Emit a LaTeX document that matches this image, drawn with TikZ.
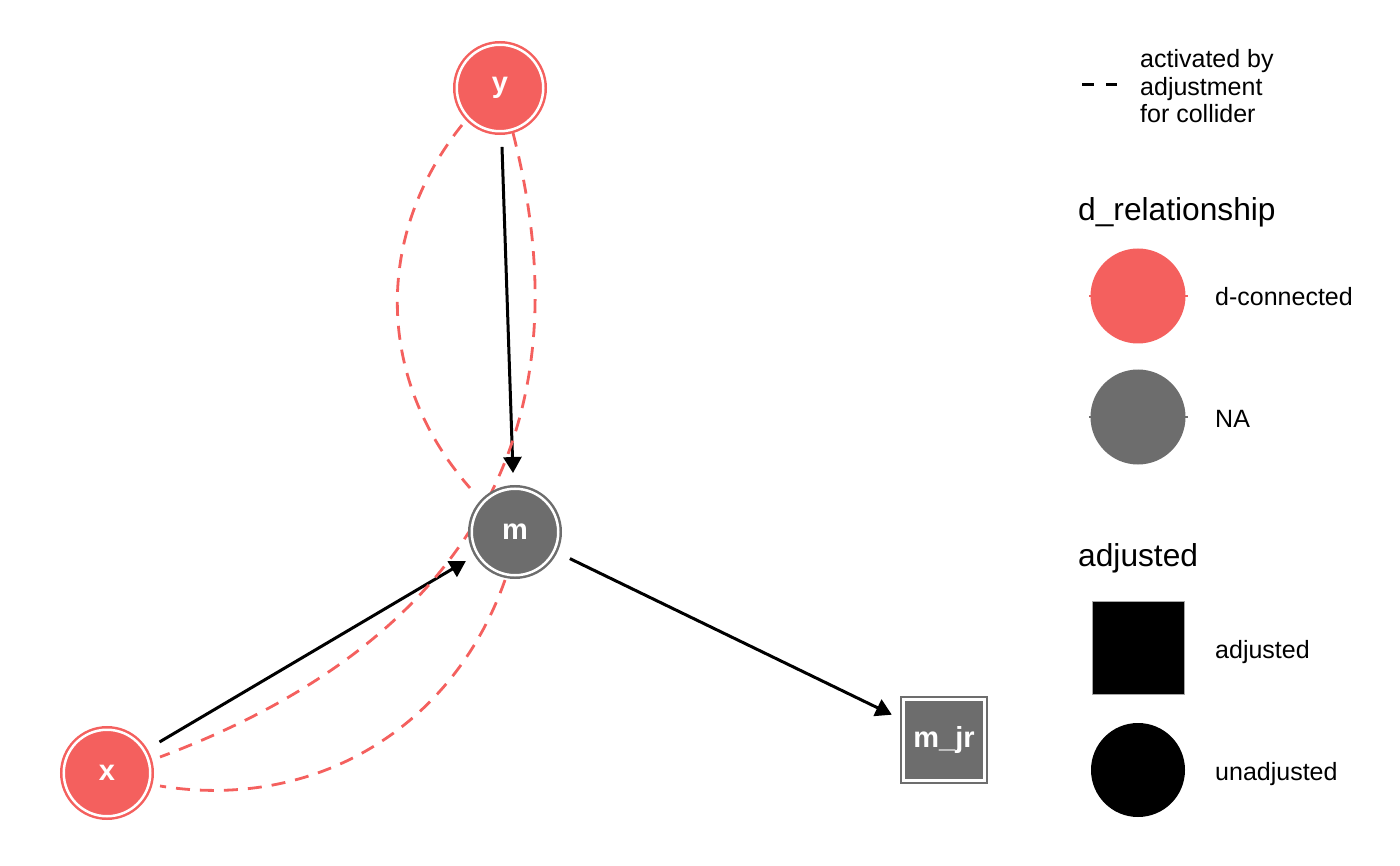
\documentclass[tikz,border=0pt]{standalone}
\usepackage{fontspec}
\setmainfont{Liberation Sans}
\usetikzlibrary{arrows.meta,calc,backgrounds}
\definecolor{dconn}{RGB}{244,96,94}
\definecolor{nagray}{RGB}{109,109,109}
\begin{document}
\begin{tikzpicture}[x=1pt,y=-1pt,
  dagnode/.style={circle, inner sep=0pt, minimum size=86.5pt, line width=2.5pt,
    double=white, double distance=2.5pt, text=white,
    font=\fontsize{29}{29}\selectfont\bfseries},
  dagsquare/.style={rectangle, inner sep=0pt, minimum size=81pt, line width=2pt,
    double=white, double distance=2.5pt, text=white, line join=miter,
    font=\fontsize{29}{29}\selectfont\bfseries},
  causal/.style={line width=3pt, black, -{Triangle[length=16pt,width=18pt]}},
  collider/.style={line width=2.8pt, dconn, dash pattern=on 14pt off 10pt},
  lab/.style={anchor=base west, inner sep=0pt, font=\fontsize{25}{27.5}\selectfont},
  ttl/.style={anchor=base west, inner sep=0pt, font=\fontsize{31.7}{35}\selectfont},
]
\useasboundingbox (0,0) rectangle (1400,866);

% DAG nodes
\node[dagnode, fill=dconn, draw=dconn] (y) at (500,88) {y};
\node[dagnode, fill=nagray, draw=nagray] (m) at (515,532) {m};
\node[dagnode, fill=dconn, draw=dconn] (x) at (107,773) {x};
\node[dagsquare, fill=nagray, draw=nagray] (mjr) at (944,740) {m\_jr};

% edges sit beneath the nodes
\begin{scope}[on background layer]
  \draw[causal, shorten <=59pt, shorten >=59pt] (y.center) -- (m.center);
  \draw[causal, shorten <=61pt, shorten >=57pt] (x.center) -- (m.center);
  \draw[causal, shorten <=61pt, shorten >=58pt] (m.center) -- (mjr.center);

  % paths opened by adjusting for the collider
  \draw[collider] ($(y.center)+(-38,37)$)
    .. controls ($(y.center)+(-127,148)$) and ($(m.center)+(-139,-151)$)
    .. ($(m.center)+(-45,-44)$);
  \draw[collider] ($(y.center)+(13,45)$)
    .. controls ($(y.center)+(105,404)$) and ($(x.center)+(288,-104)$)
    .. ($(x.center)+(53,-16)$);
  \draw[collider] ($(m.center)+(-10,48)$)
    .. controls ($(m.center)+(-62,196)$) and ($(x.center)+(208,38)$)
    .. ($(x.center)+(53,13)$);
\end{scope}

% legend: edge type
\draw[line width=3pt, black, dash pattern=on 12pt off 12pt] (1082,85) -- (1117,85);
\node[anchor=west, inner sep=0pt, align=left, font=\fontsize{25}{27.5}\selectfont]
  (edgelab) at (1140,86.5) {activated by\\adjustment\\for collider};

% legend: d_relationship
\node[ttl] (ttlrel) at (1078,221) {d\_relationship};
\draw[dconn, line width=2pt] (1089,296) -- (1188,296);
\fill[dconn] (1138,296) circle (47.5);
\node[lab] (labdc) at (1215,306) {d-connected};
\draw[nagray, line width=2pt] (1089,417) -- (1188,417);
\fill[nagray] (1138,417) circle (47.5);
\node[lab] (labna) at (1215,428) {NA};

% legend: adjusted
\node[ttl] (ttladj) at (1078,566) {adjusted};
\filldraw[fill=black, draw=black!35, line width=1pt] (1092,601) rectangle (1184,694);
\node[lab] (labadj) at (1215,658) {adjusted};
\fill[black] (1138,770) circle (47);
\node[lab] (labunadj) at (1215,780) {unadjusted};
\end{tikzpicture}
\end{document}
